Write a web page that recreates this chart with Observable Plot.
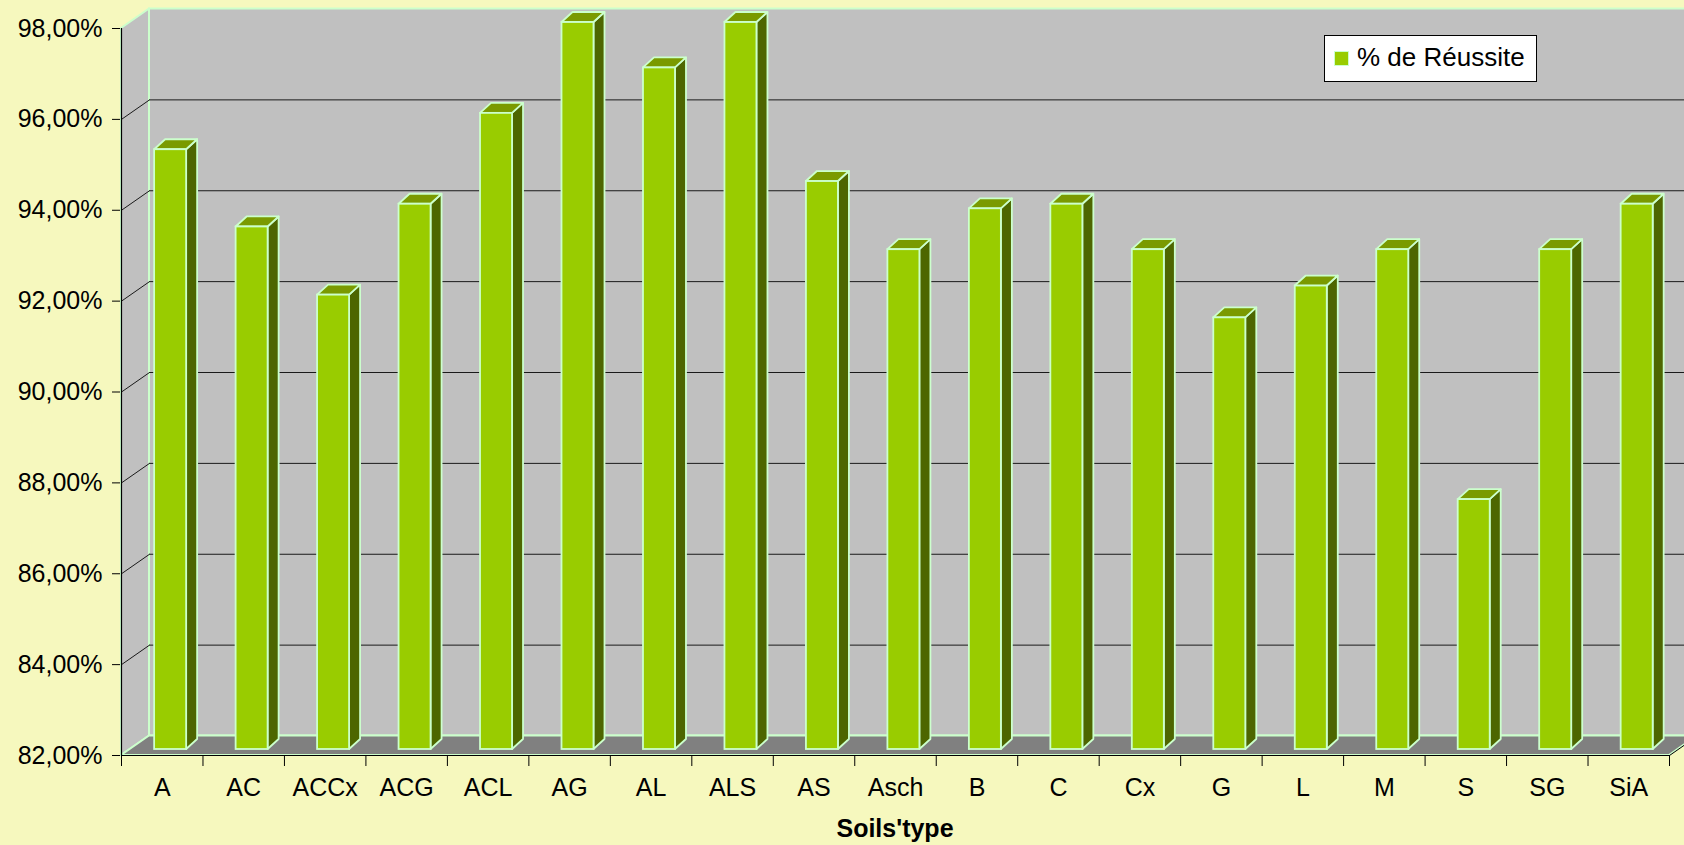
<!DOCTYPE html>
<html>
<head>
<meta charset="utf-8">
<script src="https://cdn.jsdelivr.net/npm/d3@7"></script>
<script src="https://cdn.jsdelivr.net/npm/@observablehq/plot@0.6"></script>
<style>
  html, body { margin: 0; padding: 0; background: #F6F8BE; }
  #wrap { position: relative; width: 1684px; height: 845px; overflow: hidden; font-family: "Liberation Sans", Arial, sans-serif; }
  #legend { position: absolute; left: 1324px; top: 35px; width: 213px; height: 47px; box-sizing: border-box;
            background: #fff; border: 1px solid #000; }
  #legend .sw { position: absolute; left: 9px; top: 15px; width: 13px; height: 13px; background: #99CC00; border: 1px solid #CCFFCC; }
  #legend .lb { position: absolute; left: 32px; top: 8px; font-size: 26px; line-height: 26px; color: #000; white-space: nowrap; }
  #xtitle { margin-left: 121px; width: 1548px; text-align: center; font-weight: bold; font-size: 25px;
            height: 37px; line-height: 37px; padding-top: 2px; color: #000; }
</style>
</head>
<body>
<div id="wrap">
  <div id="chart"></div>
  <div id="xtitle">Soils'type</div>
  <div id="legend"><span class="sw"></span><span class="lb">% de Réussite</span></div>
</div>
<script>
// Success rate per soil type
const categories = ["A", "AC", "ACCx", "ACG", "ACL", "AG", "AL", "ALS", "AS", "Asch", "B", "C", "Cx", "G", "L", "M", "S", "SG", "SiA"];
const reussite = [95.2, 93.5, 92.0, 94.0, 96.0, 98.0, 97.0, 98.0, 94.5, 93.0, 93.9, 94.0, 93.0, 91.5, 92.2, 93.0, 87.5, 93.0, 94.0];
const yTicks = [82, 84, 86, 88, 90, 92, 94, 96, 98];

// Frame
const width = 1684, height = 808;
const marginLeft = 121, marginRight = 15, marginTop = 28, marginBottom = 53;
const N = categories.length;
const yMin = yTicks[0], yMax = yTicks[yTicks.length - 1];

// pixels per data unit, used to express the pseudo-3D depth offsets
const kx = (width - marginLeft - marginRight) / N;
const ky = (height - marginTop - marginBottom) / (yMax - yMin);
const ux = px => px / kx;
const uy = px => px / ky;

// depth of the walls, position and depth of the bars (in pixels, converted to data units)
const wdx = ux(28), wdy = uy(19.5);
const fdx = ux(8.4), fdy = uy(6);
const bdx = ux(11), bdy = uy(10);
const bw = ux(32);

const colors = {
  wall: "#C0C0C0", floor: "#808080", edge: "#CCFFCC",
  front: "#99CC00", side: "#4D6600", top: "#7A9A00", grid: "#1a1a1a"
};

const bars = categories.map((c, i) => {
  const x1 = i + 0.5 - bw / 2 + fdx, x2 = x1 + bw;
  return {cat: c, v: reussite[i], x1, x2, y1: yMin + fdy, y2: reussite[i] + fdy};
});
const sides = bars.flatMap(b => [
  {cat: b.cat, x: b.x2, y1: b.y1, y2: b.y2},
  {cat: b.cat, x: b.x2 + bdx, y1: b.y1 + bdy, y2: b.y2 + bdy}
]);
const tops = bars.flatMap(b => [
  {cat: b.cat, y: b.y2, x1: b.x1, x2: b.x2},
  {cat: b.cat, y: b.y2 + bdy, x1: b.x1 + bdx, x2: b.x2 + bdx}
]);

const backWall = [{x1: wdx, x2: N + wdx + 1, y1: yMin + wdy, y2: yMax + wdy}];
const leftWall = [{x: 0, y1: yMin, y2: yMax}, {x: wdx, y1: yMin + wdy, y2: yMax + wdy}];
const floor = [{y: yMin, x1: 0, x2: N}, {y: yMin + wdy, x1: wdx, x2: N + wdx}];
const inner = yTicks.slice(1, -1);

const fmt = d => d.toFixed(2).replace(".", ",") + "%";

const chart = Plot.plot({
  width, height, marginLeft, marginRight, marginTop, marginBottom,
  style: {fontFamily: "'Liberation Sans', Arial, sans-serif", fontSize: "25px", background: "transparent", color: "#000", overflow: "hidden"},
  x: {domain: [0, N], ticks: categories.map((_, i) => i + 0.5), tickFormat: d => categories[Math.floor(d)], tickSize: 0, tickPadding: 23, label: null},
  y: {domain: [yMin, yMax], ticks: yTicks, tickFormat: fmt, tickSize: 9, tickPadding: 10, label: null},
  marks: [
    // walls and floor
    Plot.rect(backWall, {x1: "x1", x2: "x2", y1: "y1", y2: "y2", fill: colors.wall, stroke: colors.edge, strokeWidth: 2}),
    Plot.areaY(leftWall, {x: "x", y1: "y1", y2: "y2", fill: colors.wall, stroke: colors.edge, strokeWidth: 2}),
    Plot.ruleY(inner, {y: d => d + wdy, x1: wdx, x2: N + wdx + 1, stroke: colors.grid, strokeWidth: 1}),
    Plot.link(inner, {x1: 0, y1: d => d, x2: wdx, y2: d => d + wdy, stroke: colors.grid, strokeWidth: 1}),
    Plot.areaX(floor, {y: "y", x1: "x1", x2: "x2", fill: colors.floor, stroke: colors.edge, strokeWidth: 2}),
    Plot.link([N], {x1: d => d, y1: yMin, x2: d => d + wdx, y2: yMin + wdy, stroke: "#000", strokeWidth: 1}),
    // axis lines and category ticks
    Plot.ruleX([0], {y1: yMin, y2: yMax, stroke: "#000", strokeWidth: 1.2}),
    Plot.ruleY([yMin], {x1: 0, x2: N, stroke: "#000", strokeWidth: 1.2}),
    Plot.ruleX(d3.range(N + 1), {y1: yMin, y2: yMin - uy(11), stroke: "#000", strokeWidth: 1}),
    // bars
    Plot.areaY(sides, {x: "x", y1: "y1", y2: "y2", z: "cat", fill: colors.side, stroke: colors.edge, strokeWidth: 1.8}),
    Plot.areaX(tops, {y: "y", x1: "x1", x2: "x2", z: "cat", fill: colors.top, stroke: colors.edge, strokeWidth: 1.8}),
    Plot.rect(bars, {x1: "x1", x2: "x2", y1: "y1", y2: "y2", fill: colors.front, stroke: colors.edge, strokeWidth: 1.8})
  ]
});
document.getElementById("chart").appendChild(chart);
</script>
</body>
</html>
